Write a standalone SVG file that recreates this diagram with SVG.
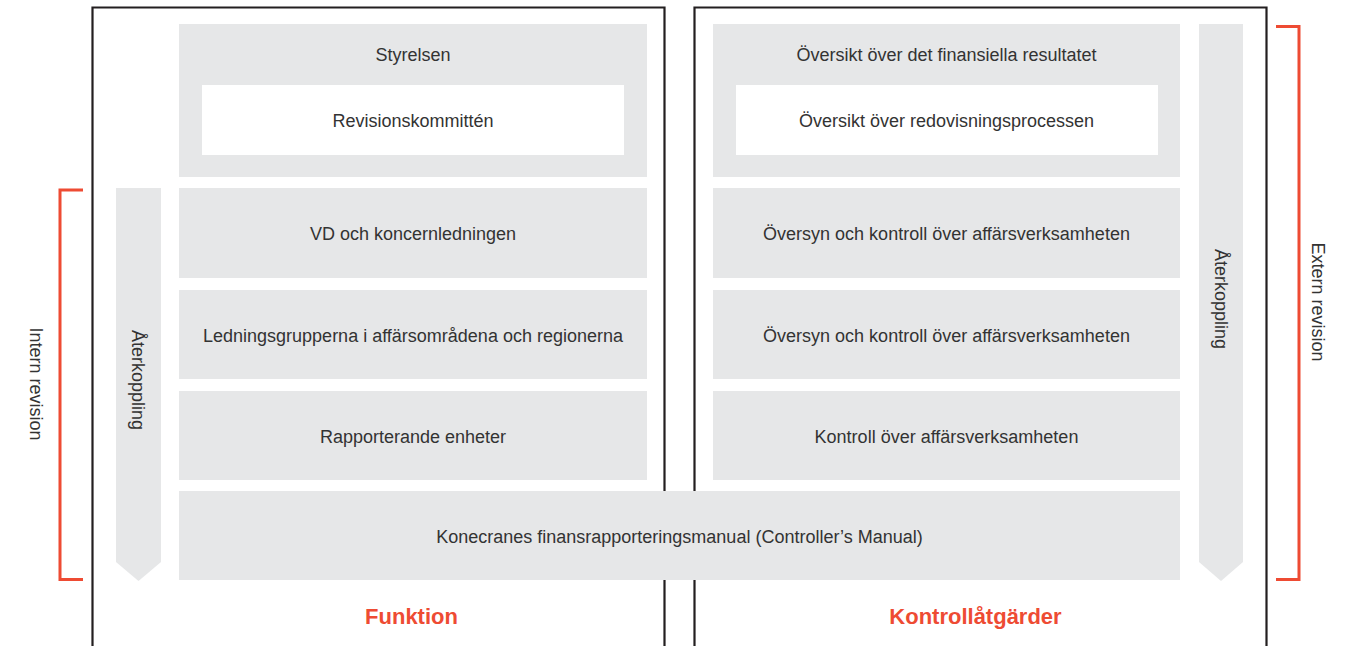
<svg xmlns="http://www.w3.org/2000/svg" width="1357" height="646" viewBox="0 0 1357 646">
<style>
.bg{fill:#e6e7e8}
.wb{fill:#ffffff}
.t{font-family:"Liberation Sans",Arial,sans-serif;font-size:18px;fill:#333333;text-anchor:middle}
.h{font-family:"Liberation Sans",Arial,sans-serif;font-size:22px;font-weight:bold;fill:#ee4b33;text-anchor:middle}
.frame{fill:none;stroke:#231f20;stroke-width:2.2}
.br{fill:none;stroke:#ee4b33;stroke-width:3}
</style>
<rect width="1357" height="646" fill="#ffffff"/>
<g id="frames">
<path class="frame" d="M92.5,646 V7.5 H664.5 V646"/>
<path class="frame" d="M694.5,646 V7.5 H1266.5 V646"/>
</g>
<g id="brackets">
<path class="br" d="M83,190 H60 V579.5 H83"/>
<path class="br" d="M1276,26.5 H1299 V579.5 H1276"/>
</g>
<g id="intern-revision"><text class="t" transform="translate(36,384) rotate(90)" y="6.5">Intern revision</text></g>
<g id="extern-revision"><text class="t" transform="translate(1318,302) rotate(90)" y="6.5">Extern revision</text></g>
<g id="feedback-left">
<polygon class="bg" points="116,188 161,188 161,562 138.5,581 116,562"/>
<text class="t" transform="translate(138.5,380) rotate(90)" y="6.5">Återkoppling</text>
</g>
<g id="feedback-right">
<polygon class="bg" points="1199,24 1243,24 1243,562 1221,581 1199,562"/>
<text class="t" transform="translate(1221,299) rotate(90)" y="6.5">Återkoppling</text>
</g>
<g id="styrelsen">
<rect class="bg" x="179" y="24" width="468" height="153"/>
<text class="t" x="413" y="60.5">Styrelsen</text>
</g>
<g id="revisionskommitten">
<rect class="wb" x="202" y="85" width="422" height="70"/>
<text class="t" x="413" y="126.5">Revisionskommittén</text>
</g>
<g id="vd">
<rect class="bg" x="179" y="188" width="468" height="90"/>
<text class="t" x="413" y="240">VD och koncernledningen</text>
</g>
<g id="ledningsgrupperna">
<rect class="bg" x="179" y="290" width="468" height="89"/>
<text class="t" x="413" y="341.5">Ledningsgrupperna i affärsområdena och regionerna</text>
</g>
<g id="rapporterande">
<rect class="bg" x="179" y="391" width="468" height="89"/>
<text class="t" x="413" y="442.5">Rapporterande enheter</text>
</g>
<g id="oversikt-resultat">
<rect class="bg" x="713" y="24" width="467" height="153"/>
<text class="t" x="946.5" y="60.5">Översikt över det finansiella resultatet</text>
</g>
<g id="oversikt-redovisning">
<rect class="wb" x="736" y="85" width="422" height="70"/>
<text class="t" x="946.5" y="126.5">Översikt över redovisningsprocessen</text>
</g>
<g id="oversyn-1">
<rect class="bg" x="713" y="188" width="467" height="90"/>
<text class="t" x="946.5" y="240">Översyn och kontroll över affärsverksamheten</text>
</g>
<g id="oversyn-2">
<rect class="bg" x="713" y="290" width="467" height="89"/>
<text class="t" x="946.5" y="341.5">Översyn och kontroll över affärsverksamheten</text>
</g>
<g id="kontroll">
<rect class="bg" x="713" y="391" width="467" height="89"/>
<text class="t" x="946.5" y="442.5">Kontroll över affärsverksamheten</text>
</g>
<g id="manual">
<rect class="bg" x="179" y="491" width="1001" height="89"/>
<text class="t" x="679.5" y="542.5">Konecranes finansrapporteringsmanual (Controller’s Manual)</text>
</g>
<g id="titles">
<text class="h" x="411.5" y="623.5">Funktion</text>
<text class="h" x="975.5" y="623.5">Kontrollåtgärder</text>
</g>
</svg>
